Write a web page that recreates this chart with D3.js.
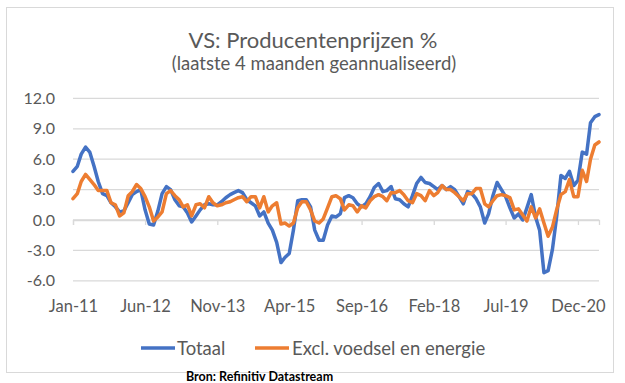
<!DOCTYPE html>
<html>
<head>
<meta charset="utf-8">
<script src="https://cdn.jsdelivr.net/npm/d3@7"></script>
<style>
  html, body { margin: 0; padding: 0; background: #ffffff; }
  svg { display: block; }
  text { font-family: Lato, "Open Sans", sans-serif; fill: #595959; }
</style>
</head>
<body>
<div id="chart"></div>
<script>
// ---- Data (monthly, Jan-11 .. May-21) ----
const startYear = 2011, startMonth = 0;
const totaal = [
  4.8, 5.3, 6.5, 7.2, 6.7, 5.3, 3.8, 2.6, 2.4, 1.7, 1.3, 0.8,
  0.9, 1.7, 2.5, 2.8, 3.0, 1.0, -0.4, -0.5, 0.9, 2.6, 3.3, 3.0,
  2.0, 1.4, 1.3, 0.7, -0.2, 0.4, 1.0, 1.5, 1.6, 1.5, 1.5, 1.8,
  2.2, 2.5, 2.7, 2.9, 2.7, 2.0, 1.7, 1.4, 0.4, 0.8, -0.3, -1.0,
  -2.2, -4.2, -3.7, -3.3, -1.0, 1.9, 2.0, 2.0, 1.3, -1.0, -2.0, -2.0,
  -0.5, 0.4, 0.3, 0.6, 2.2, 2.4, 2.2, 1.6, 1.3, 1.6, 2.3, 3.2,
  3.6, 2.8, 2.9, 3.3, 2.1, 2.0, 1.6, 1.3, 2.4, 3.6, 4.2, 3.7,
  3.6, 3.3, 3.0, 3.4, 3.0, 3.3, 3.0, 2.3, 1.6, 2.8, 2.6, 2.1,
  1.3, -0.3, 0.6, 2.4, 3.7, 3.0, 2.3, 1.2, 0.2, 0.6, 0.0, 1.2,
  2.5, 0.3, -1.0, -5.2, -5.0, -2.9, 0.3, 4.4, 4.1, 4.8, 3.4, 3.9,
  6.7, 6.5, 9.6, 10.2, 10.4
];
const exclVoedselEnergie = [
  2.1, 2.6, 3.8, 4.5, 4.0, 3.5, 2.9, 2.9, 2.9, 1.7, 1.5, 0.4,
  0.7, 2.4, 2.8, 3.5, 3.1, 2.3, 1.3, -0.1, 0.3, 0.8, 2.6, 2.9,
  2.4, 2.0, 1.3, 1.5, 0.4, 1.5, 1.6, 1.2, 2.3, 1.7, 1.4, 1.5,
  1.7, 1.8, 2.0, 2.2, 2.3, 1.8, 2.3, 2.3, 1.2, 2.3, 0.8, 1.4,
  1.7, -0.4, -0.3, -0.6, -0.3, 1.2, 1.8, 1.8, 1.0, -0.1, -0.3, 0.1,
  1.2, 2.3, 2.4, 2.1, 1.0, 1.5, 1.4, 0.8, 1.4, 1.2, 1.9, 2.3,
  2.5, 2.3, 1.9, 2.7, 2.7, 2.9, 2.5, 1.9, 1.7, 2.6, 2.4, 1.9,
  2.9, 2.4, 2.7, 3.4, 3.0, 3.0, 2.7, 2.3, 1.9, 2.6, 2.6, 3.1,
  3.1, 1.6, 1.3, 1.9, 2.4, 2.5, 2.4, 2.2, 1.0, 1.1, 0.5, -0.1,
  1.3, 0.2, 1.1, -0.3, -1.6, -0.7, 1.0, 2.5, 2.8, 4.0, 2.3, 2.3,
  4.9, 3.8, 6.0, 7.4, 7.7
];
const seriesNames = ["Totaal", "Excl. voedsel en energie"];
const xTickLabels = ["Jan-11", "Jun-12", "Nov-13", "Apr-15", "Sep-16", "Feb-18", "Jul-19", "Dec-20"];
const yTicks = [12, 9, 6, 3, 0, -3, -6];
const titleText = "VS: Producentenprijzen %";
const subtitleText = "(laatste 4 maanden geannualiseerd)";
const sourceText = "Bron: Refinitiv Datastream";

// ---- Layout ----
const W = 625, H = 383;
const colors = ["#4472C4", "#ED7D31"];
const dates = totaal.map((d, i) => new Date(startYear, startMonth + i, 1));
const tickDates = xTickLabels.map((_, k) => new Date(startYear, startMonth + 17 * k, 1));

const svg = d3.select("#chart").append("svg").attr("width", W).attr("height", H);

svg.append("rect").attr("x", 6.5).attr("y", 7.5).attr("width", 607).attr("height", 365)
  .attr("fill", "#fff").attr("stroke", "#d9d9d9").attr("stroke-width", 1);

const x = d3.scaleTime().domain([dates[0], dates[dates.length - 1]]).range([73, 599]);
const y = d3.scaleLinear().domain([-6, 12]).range([280.8, 98.4]);

svg.append("text").attr("x", 313).attr("y", 48).attr("text-anchor", "middle")
  .style("font-size", "22px").text(titleText);
svg.append("text").attr("x", 314).attr("y", 70).attr("text-anchor", "middle")
  .style("font-size", "18.5px").text(subtitleText);

// gridlines
svg.append("g").selectAll("line").data(yTicks).join("line")
  .attr("x1", 73).attr("x2", 599)
  .attr("y1", d => y(d)).attr("y2", d => y(d))
  .attr("stroke", "#d9d9d9").attr("stroke-width", 1.3);

// y labels
svg.append("g").selectAll("text").data(yTicks).join("text")
  .attr("x", 55).attr("y", d => y(d) + 5.5).attr("text-anchor", "end")
  .style("font-size", "16px").text(d => d.toFixed(1));

// x axis at zero with tick marks
const xAxis = d3.axisBottom(x).tickValues(tickDates).tickSize(5)
  .tickFormat((d, i) => xTickLabels[i]);
const gx = svg.append("g").attr("transform", `translate(0,${y(0)})`).call(xAxis);
gx.select(".domain").attr("stroke", "#d9d9d9").attr("stroke-width", 1.3);
gx.selectAll(".tick line").attr("stroke", "#d9d9d9").attr("stroke-width", 1.3);
gx.selectAll(".tick text").attr("y", 0).attr("dy", 0)
  .attr("transform", `translate(0,${312 - y(0)})`)
  .style("font-size", "16.5px").style("font-family", "Lato, 'Open Sans', sans-serif")
  .attr("fill", "#595959");

// lines
const line = d3.line().x((d, i) => x(dates[i])).y(d => y(d));
[totaal, exclVoedselEnergie].forEach((s, k) => {
  svg.append("path").datum(s).attr("d", line)
    .attr("fill", "none").attr("stroke", colors[k]).attr("stroke-width", 3.5)
    .attr("stroke-linejoin", "round").attr("stroke-linecap", "round");
});

// legend
const legendItems = [{x: 141, tx: 177}, {x: 255, tx: 292}];
legendItems.forEach((p, k) => {
  svg.append("line").attr("x1", p.x).attr("x2", p.x + 34).attr("y1", 348).attr("y2", 348)
    .attr("stroke", colors[k]).attr("stroke-width", 3.5);
  svg.append("text").attr("x", p.tx).attr("y", 354.5).style("font-size", "18.5px").text(seriesNames[k]);
});

svg.append("text").attr("x", 186).attr("y", 381).style("font-size", "12.5px")
  .style("font-weight", "bold").style("fill", "#000").text(sourceText);
</script>
</body>
</html>
